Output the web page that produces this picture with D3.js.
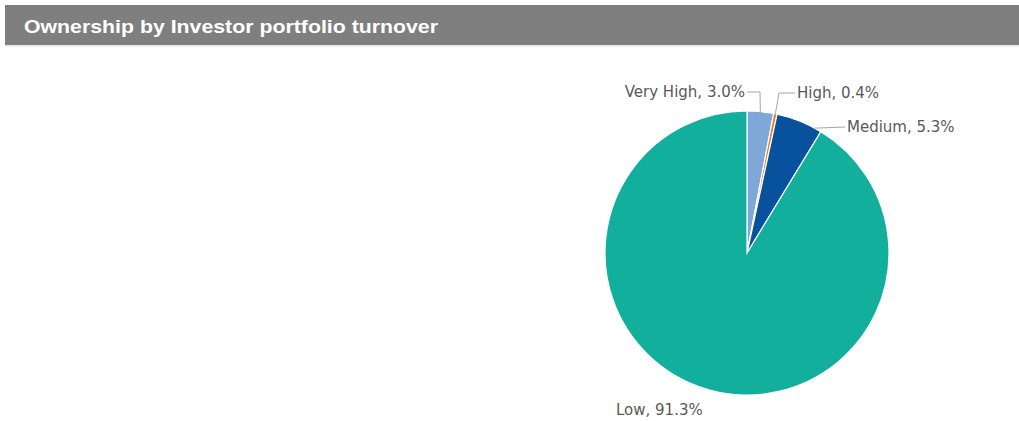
<!DOCTYPE html>
<html>
<head>
<meta charset="utf-8">
<script src="https://cdn.jsdelivr.net/npm/d3@7"></script>
<style>
  body { margin: 0; background: #fff; }
  svg { display: block; }
</style>
</head>
<body>
<div id="chart"></div>
<script>
const categories = ["Very High", "High", "Medium", "Low"]
const values = [3.0, 0.4, 5.3, 91.3]
const colors = ["#7EA8D8", "#E8832A", "#08519C", "#12AF9C"]

const width = 1019
const height = 421
const cx = 747
const cy = 253
const radius = 142

const svg = d3.select("#chart").append("svg")
  .attr("width", width)
  .attr("height", height)

// Title bar
svg.append("rect")
  .attr("x", 5).attr("y", 5)
  .attr("width", 1014).attr("height", 40)
  .attr("fill", "#7F7F7F")
svg.append("line")
  .attr("x1", 5).attr("x2", 1019)
  .attr("y1", 46).attr("y2", 46)
  .attr("stroke", "#d9d9d9")

svg.append("text")
  .text("Ownership by Investor portfolio turnover")
  .attr("x", 24).attr("y", 33)
  .attr("fill", "#fff")
  .attr("font-family", "Liberation Sans, Arial, sans-serif")
  .attr("font-weight", "bold")
  .attr("font-size", 19)
  .attr("textLength", 414)
  .attr("lengthAdjust", "spacingAndGlyphs")

// Pie
const data = categories.map((c, i) => ({ name: c, value: values[i], color: colors[i] }))
const pie = d3.pie().sort(null).value(d => d.value)
const arcs = pie(data)
const arc = d3.arc().innerRadius(0).outerRadius(radius)

const g = svg.append("g").attr("transform", "translate(" + cx + "," + cy + ")")

g.selectAll("path")
  .data(arcs).enter()
  .append("path")
    .attr("d", arc)
    .attr("fill", d => d.data.color)
    .attr("stroke", "#fff")
    .attr("stroke-width", 1.2)

// Labels and leader lines (anchor = fraction along slice, label offsets relative to centre)
const labelLayout = {
  "Very High": { t: 0.5, elbow: [13, -161], end: [0, -161], text: [-2, -156], anchor: "end" },
  "High":      { t: 0.5, elbow: [32, -160], end: [48, -160], text: [50, -155], anchor: "start" },
  "Medium":    { t: 0.85, elbow: [98, -126], end: [98, -126], text: [100, -121], anchor: "start" },
  "Low":       { t: 0.5, text: [-131, 162], anchor: "start", noLine: true }
}

function pointAt(d, t, r) {
  const a = d.startAngle + (d.endAngle - d.startAngle) * t
  return [Math.sin(a) * r, -Math.cos(a) * r]
}

arcs.forEach(d => {
  const L = labelLayout[d.data.name]
  if (!L.noLine) {
    const p = pointAt(d, L.t, radius)
    g.append("polyline")
      .attr("points", [p, L.elbow, L.end].map(q => q.join(",")).join(" "))
      .attr("fill", "none")
      .attr("stroke", "#a6a6a6")
      .attr("stroke-width", 1)
  }
  g.append("text")
    .text(d.data.name + ", " + d.data.value.toFixed(1) + "%")
    .attr("x", L.text[0]).attr("y", L.text[1])
    .attr("text-anchor", L.anchor)
    .attr("fill", "#595959")
    .attr("font-family", "DejaVu Sans, sans-serif")
    .attr("font-size", 15)
})
</script>
</body>
</html>
